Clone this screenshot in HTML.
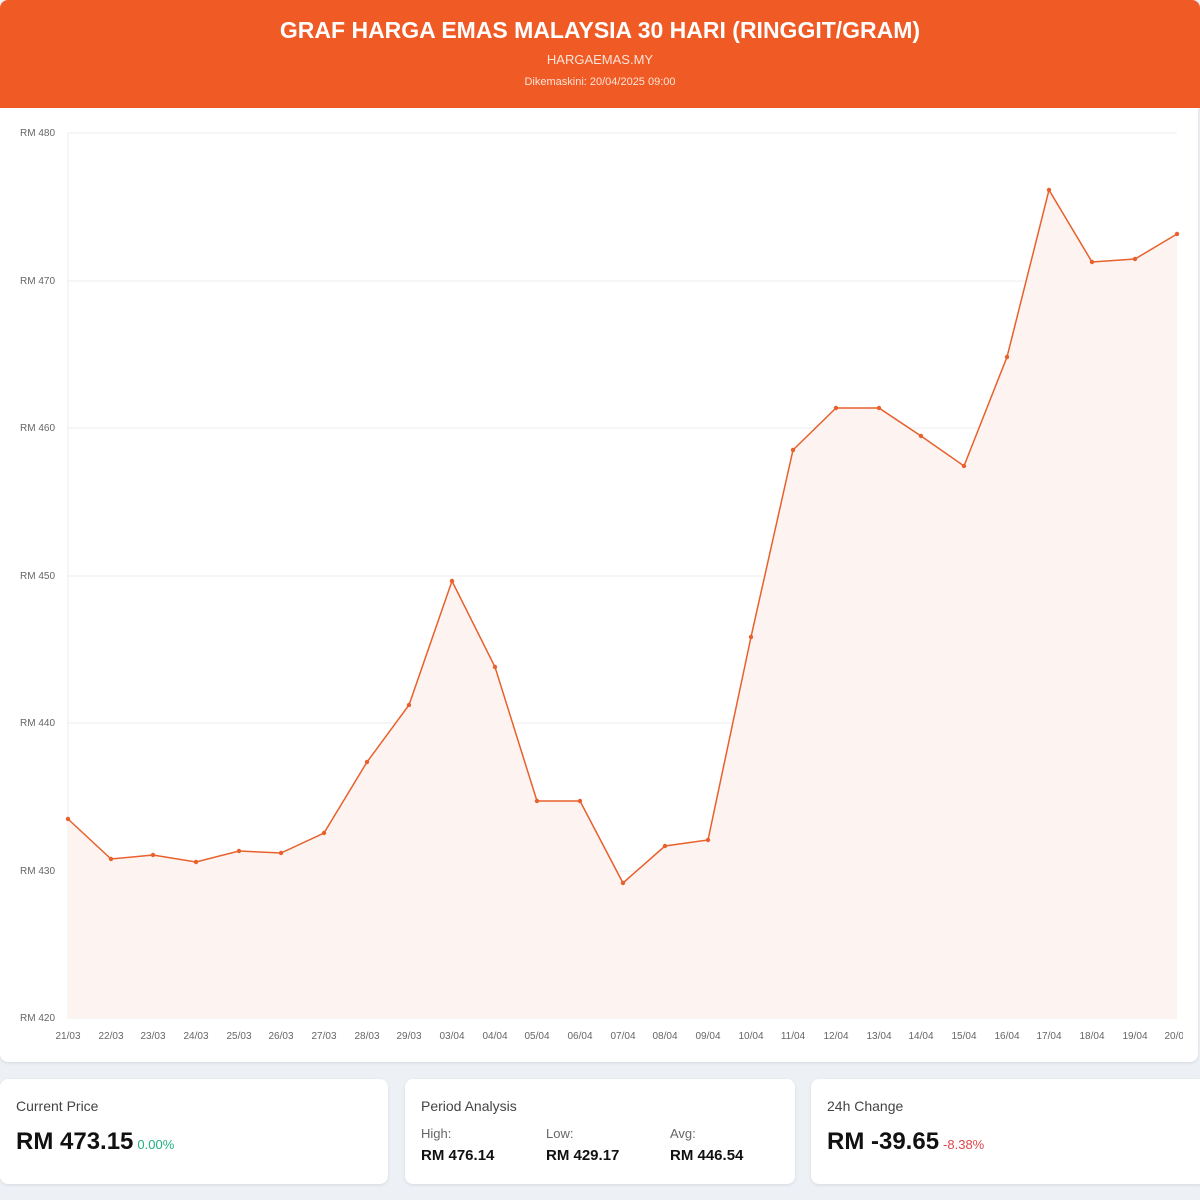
<!DOCTYPE html>
<html><head><meta charset="utf-8"><style>
*{margin:0;padding:0;box-sizing:border-box}
body{width:1200px;height:1200px;background:#edf1f6;font-family:"Liberation Sans",sans-serif;position:relative;overflow:hidden}
.hdr{position:absolute;left:0;top:0;width:1200px;height:108px;background:#f05a25;color:#fff;text-align:center;border-radius:8px 8px 0 0}
.hdr h1{position:absolute;top:17px;width:100%;font-size:23px;font-weight:bold}
.hdr .s{position:absolute;top:52px;width:100%;font-size:13px;color:#fde4d8}
.hdr .d{position:absolute;top:76px;width:100%;font-size:11px;color:#fde4d8}
.chart{position:absolute;left:0;top:108px;width:1198px;height:954px;background:#fff;border-radius:0 0 8px 8px;box-shadow:0 1px 3px rgba(0,0,0,.1)}
.card{position:absolute;top:1079px;height:105px;background:#fff;border-radius:8px;box-shadow:0 1px 3px rgba(0,0,0,.1)}
.lbl{position:absolute;left:16px;top:19px;font-size:14px;color:#444}
.big{position:absolute;left:16px;top:49px;font-size:24px;font-weight:bold;color:#111}
.big span{font-size:13px;font-weight:normal;margin-left:4px}
.sub{position:absolute;top:47px;font-size:13px;color:#666}
.sv{position:absolute;top:68px;font-size:15px;font-weight:bold;color:#111}
</style></head><body>
<div class="hdr"><h1>GRAF HARGA EMAS MALAYSIA 30 HARI (RINGGIT/GRAM)</h1><div class="s">HARGAEMAS.MY</div><div class="d">Dikemaskini: 20/04/2025 09:00</div></div>
<div class="chart"></div>
<svg style="position:absolute;left:0;top:0" width="1200" height="1062" font-family="Liberation Sans,sans-serif">
<defs><clipPath id="c"><rect x="0" y="108" width="1183" height="954"/></clipPath></defs>
<g stroke="#ececec" stroke-width="1">
<line x1="68" y1="133" x2="1177" y2="133"/><line x1="68" y1="281" x2="1177" y2="281"/><line x1="68" y1="428" x2="1177" y2="428"/><line x1="68" y1="576" x2="1177" y2="576"/><line x1="68" y1="723" x2="1177" y2="723"/><line x1="68" y1="871" x2="1177" y2="871"/><line x1="68" y1="1018" x2="1177" y2="1018"/>
<line x1="68" y1="133" x2="68" y2="1018"/>
</g>
<g font-size="10" fill="#666">
<text x="20" y="136">RM 480</text><text x="20" y="284">RM 470</text><text x="20" y="431">RM 460</text><text x="20" y="579">RM 450</text><text x="20" y="726">RM 440</text><text x="20" y="874">RM 430</text><text x="20" y="1021">RM 420</text>
</g>
<g clip-path="url(#c)">
<polygon fill="#fdf3f0" points="68,1018 68,819 111,859 153,855 196,862 239,851 281,853 324,833 367,762 409,705 452,581 495,667 537,801 580,801 623,883 665,846 708,840 751,637 793,450 836,408 879,408 921,436 964,466 1007,357 1049,190 1092,262 1135,259 1177,234 1177,1018"/>
<polyline fill="none" stroke="#e8602c" stroke-width="1.5" points="68,819 111,859 153,855 196,862 239,851 281,853 324,833 367,762 409,705 452,581 495,667 537,801 580,801 623,883 665,846 708,840 751,637 793,450 836,408 879,408 921,436 964,466 1007,357 1049,190 1092,262 1135,259 1177,234"/>
<g fill="#e8602c">
<circle cx="68" cy="819" r="2.2"/><circle cx="111" cy="859" r="2.2"/><circle cx="153" cy="855" r="2.2"/><circle cx="196" cy="862" r="2.2"/><circle cx="239" cy="851" r="2.2"/><circle cx="281" cy="853" r="2.2"/><circle cx="324" cy="833" r="2.2"/><circle cx="367" cy="762" r="2.2"/><circle cx="409" cy="705" r="2.2"/><circle cx="452" cy="581" r="2.2"/><circle cx="495" cy="667" r="2.2"/><circle cx="537" cy="801" r="2.2"/><circle cx="580" cy="801" r="2.2"/><circle cx="623" cy="883" r="2.2"/><circle cx="665" cy="846" r="2.2"/><circle cx="708" cy="840" r="2.2"/><circle cx="751" cy="637" r="2.2"/><circle cx="793" cy="450" r="2.2"/><circle cx="836" cy="408" r="2.2"/><circle cx="879" cy="408" r="2.2"/><circle cx="921" cy="436" r="2.2"/><circle cx="964" cy="466" r="2.2"/><circle cx="1007" cy="357" r="2.2"/><circle cx="1049" cy="190" r="2.2"/><circle cx="1092" cy="262" r="2.2"/><circle cx="1135" cy="259" r="2.2"/><circle cx="1177" cy="234" r="2.2"/>
</g>
<g font-size="10" fill="#666" text-anchor="middle">
<text x="68" y="1039">21/03</text><text x="111" y="1039">22/03</text><text x="153" y="1039">23/03</text><text x="196" y="1039">24/03</text><text x="239" y="1039">25/03</text><text x="281" y="1039">26/03</text><text x="324" y="1039">27/03</text><text x="367" y="1039">28/03</text><text x="409" y="1039">29/03</text><text x="452" y="1039">03/04</text><text x="495" y="1039">04/04</text><text x="537" y="1039">05/04</text><text x="580" y="1039">06/04</text><text x="623" y="1039">07/04</text><text x="665" y="1039">08/04</text><text x="708" y="1039">09/04</text><text x="751" y="1039">10/04</text><text x="793" y="1039">11/04</text><text x="836" y="1039">12/04</text><text x="879" y="1039">13/04</text><text x="921" y="1039">14/04</text><text x="964" y="1039">15/04</text><text x="1007" y="1039">16/04</text><text x="1049" y="1039">17/04</text><text x="1092" y="1039">18/04</text><text x="1135" y="1039">19/04</text><text x="1177" y="1039">20/04</text>
</g>
</g>
</svg>
<div class="card" style="left:0;width:388px"><div class="lbl">Current Price</div><div class="big">RM 473.15<span style="color:#22b07d">0.00%</span></div></div>
<div class="card" style="left:405px;width:390px"><div class="lbl">Period Analysis</div>
<div class="sub" style="left:16px">High:</div><div class="sv" style="left:16px">RM 476.14</div>
<div class="sub" style="left:141px">Low:</div><div class="sv" style="left:141px">RM 429.17</div>
<div class="sub" style="left:265px">Avg:</div><div class="sv" style="left:265px">RM 446.54</div></div>
<div class="card" style="left:811px;width:395px"><div class="lbl">24h Change</div><div class="big">RM -39.65<span style="color:#e0474c">-8.38%</span></div></div>
</body></html>
